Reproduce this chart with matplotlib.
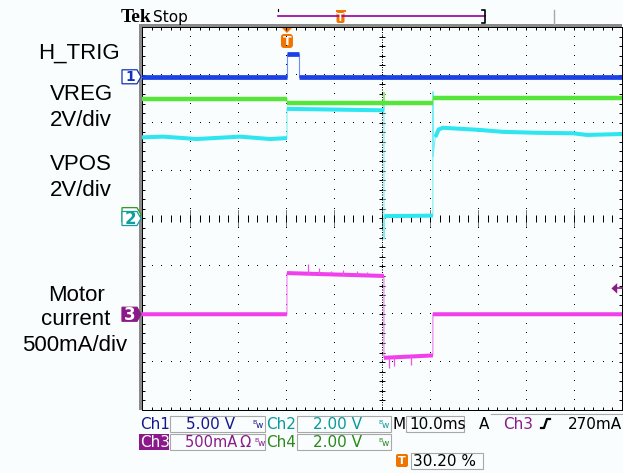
import numpy as np
import matplotlib.pyplot as plt
from matplotlib.patches import Polygon, Rectangle, FancyBboxPatch
from matplotlib.ticker import MultipleLocator

# scope settings
ms_per_div = 10.0
trig_pct = 30.20
ch1_v_per_div = 5.0
ch2_v_per_div = 2.0
ch3_ma_per_div = 500.0
ch4_v_per_div = 2.0
ch1_pos = 2.96
ch2_pos = 0.0
ch3_pos = -2.0
ch4_pos = 0.08
trig_level_ma = 270

# Ch1: H_TRIG (V)
htrig_t = [-30.2, 0.0, 0.0, 2.5, 2.5, 69.8]
htrig_v = [0.0, 0.0, 2.4, 2.4, 0.0, 0.0]

# Ch4: VREG (V)
vreg_t = [-30.2, 0.0, 0.0, 20.2, 20.2, 20.3, 30.4, 30.4, 69.8]
vreg_v = [4.85, 4.85, 4.66, 4.66, 5.12, 4.66, 4.66, 4.87, 4.87]

# Ch2: VPOS (V)
vpos_t = [-30.2, -25.8, -18.8, -9.8, -3.5, 0.0, 0.0, 20.2, 20.2, 20.2, 20.3,
          30.4, 30.4, 30.45, 30.9, 31.6, 32.5, 40.2, 45.0, 52.1, 59.6, 62.5, 69.8]
vpos_v = [3.39, 3.42, 3.32, 3.42, 3.32, 3.36, 4.58, 4.52, 5.10, -0.86, 0.10,
          0.12, 5.30, 2.60, 3.40, 3.72, 3.79, 3.70, 3.62, 3.58, 3.56, 3.49, 3.53]

# Ch3: motor current (mA)
motor_t = [-30.2, 0.0, 0.0, 20.2, 20.2, 30.4, 30.4, 69.8]
motor_ma = [0, 0, 430, 400, -455, -430, 0, 0]
motor_spike_t = [4.4, 6.7, 9.1, 11.7, 14.5, 16.6, 21.2, 22.2, 25.9]
motor_spike_ma = [530, 485, 455, 460, 450, 445, -560, -545, -527]

# graticule in pixels
X0, X1, Y0, Y1 = 142, 622, 27, 410
W, H = 623, 473
trig_div = trig_pct / 10.0


def px(xd):
    return X0 + xd * (X1 - X0) / 10.0


def py(yd):
    return (Y0 + Y1) / 2.0 - yd * (Y1 - Y0) / 8.0


fig = plt.figure(figsize=(W / 100, H / 100), dpi=100)
fig.patch.set_facecolor('#f9fdfd')

ov = fig.add_axes([0, 0, 1, 1])
ov.set_xlim(0, W)
ov.set_ylim(H, 0)
ov.axis('off')

ax = fig.add_axes([X0 / W, (H - Y1) / H, (X1 - X0) / W, (Y1 - Y0) / H])
ax.set_zorder(2)
ax.patch.set_alpha(0)
ax.set_xlim(0, 10)
ax.set_ylim(-4, 4)
for a in (ax.xaxis, ax.yaxis):
    a.set_major_locator(MultipleLocator(1))
    a.set_minor_locator(MultipleLocator(0.2))
ax.tick_params(which='both', direction='in', length=2.2, width=0.7,
               top=True, right=True, labelbottom=False, labelleft=False)
for s in ax.spines.values():
    s.set_linestyle((0, (1, 1)))
    s.set_linewidth(0.72)

# graticule dots
fine_y = np.arange(-4, 4.001, 0.2)
fine_x = np.arange(0, 10.001, 0.2)
for gx in range(1, 10):
    ax.plot(np.full_like(fine_y, gx), fine_y, ',', color='black')
for gy in range(-3, 4):
    ax.plot(fine_x, np.full_like(fine_x, gy), ',', color='black')

# centre cross with fine ticks
ax.axvline(5, color='black', lw=0.72, ls=(0, (1, 1.5)))
ax.hlines(fine_y, 5 - 0.06, 5 + 0.06, color='black', lw=0.72)
ax.vlines(fine_x, -0.07, 0.07, color='black', lw=0.72)
for gx in range(1, 10):
    ax.plot([gx, gx], [-0.17, 0.17], color='black', lw=0.72, ls=(0, (1, 1)))


def draw_trace(t, v, per_div, pos, color, edge, lw):
    x = np.asarray(t, float) / ms_per_div + trig_div
    y = np.asarray(v, float) / per_div + pos
    ax.plot(x, y, color=edge, lw=0.8, zorder=3)
    xs, ys = [x[0]], [y[0]]
    for i in range(1, len(x)):
        if abs(y[i] - y[i - 1]) > 6 * abs(x[i] - x[i - 1]):
            xs.append(np.nan)
            ys.append(np.nan)
        xs.append(x[i])
        ys.append(y[i])
    ax.plot(xs, ys, color=color, lw=lw, solid_capstyle='butt', zorder=3)


draw_trace(vpos_t, vpos_v, ch2_v_per_div, ch2_pos, '#2ee6f0', '#7aeef6', 2.9)
draw_trace(vreg_t, vreg_v, ch4_v_per_div, ch4_pos, '#56e63a', '#8cf070', 3.2)
draw_trace(motor_t, motor_ma, ch3_ma_per_div, ch3_pos, '#f040ee', '#f47af2', 2.9)
base = np.interp(motor_spike_t, motor_t, motor_ma)
ax.vlines(np.asarray(motor_spike_t) / ms_per_div + trig_div,
          base / ch3_ma_per_div + ch3_pos,
          np.asarray(motor_spike_ma) / ch3_ma_per_div + ch3_pos,
          color='#f050ee', lw=0.9, zorder=3)
draw_trace(htrig_t, htrig_v, ch1_v_per_div, ch1_pos, '#1a40e6', '#6a8cff', 3.4)

# trigger level arrow on the right edge
tl = trig_level_ma / ch3_ma_per_div + ch3_pos
ax.add_patch(Polygon([[9.78, tl], [9.9, tl + 0.11], [9.9, tl - 0.11]],
                     closed=True, fc='#8a1a8a', ec='none', clip_on=False, zorder=4))
ax.plot([9.9, 10.0], [tl, tl], color='#8a1a8a', lw=1.2, clip_on=False, zorder=4)

# frame bars
gray = '#8a8a8a'
ov.add_patch(Rectangle((139, 24), X1 - 139, 3, fc=gray, ec='none'))
ov.add_patch(Rectangle((139, 24), 3, Y1 - 24, fc=gray, ec='none'))

# header
ov.text(121, 22, 'Tek', fontfamily='Liberation Serif', fontweight='bold',
        fontsize=14, va='baseline')
ov.text(153, 22, 'Stop', fontfamily='DejaVu Sans', fontsize=11, va='baseline')
rec_l, rec_r = 278, 485
ov.plot([rec_l, rec_r], [16, 16], color='#990099', lw=1.2)
ov.plot([rec_r - 3, rec_r, rec_r, rec_r - 3], [10, 10, 23, 23], color='black', lw=1.2)
ov.plot([rec_l, rec_l], [9.5, 11.5], color='black', lw=0.8)
ov.plot([554, 554], [10, 24], color='#a8a8a8', lw=1)
orange = '#f07400'
rx = rec_l + (rec_r - rec_l) * trig_pct / 100
ov.add_patch(Rectangle((rx - 5, 10), 10, 2, fc=orange, ec='none'))
ov.add_patch(FancyBboxPatch((rx - 4, 12), 8, 11, boxstyle='round,pad=0,rounding_size=2',
                            fc=orange, ec='none'))
ov.text(rx, 18, 'T', color='white', fontsize=7, fontweight='bold',
        ha='center', va='center')

# trigger position marker
tx = px(trig_div)
ov.add_patch(Polygon([[tx - 6, 27], [tx + 6, 27], [tx, 33]], closed=True,
                     fc=orange, ec='none', zorder=5))
ov.add_patch(FancyBboxPatch((tx - 6, 34), 12, 14, boxstyle='round,pad=0,rounding_size=3',
                            fc=orange, ec='none', zorder=5))
ov.text(tx, 41.5, 'T', color='white', fontsize=9, fontweight='bold',
        ha='center', va='center', zorder=6)


def ch_marker(pos, num, fc, ec, tc, fs):
    yc = py(pos)
    pts = [[122, yc - 7], [137, yc - 7], [141, yc], [137, yc + 7], [122, yc + 7]]
    ov.add_patch(Polygon(pts, closed=True, fc=fc, ec=ec, lw=0.9, zorder=5))
    if num:
        ov.text(130, yc + 0.5, num, color=tc, fontsize=fs, fontweight='bold',
                ha='center', va='center', zorder=6)


ch_marker(ch1_pos, '1', 'white', '#1030c0', '#1030c0', 10)
ch_marker(ch4_pos, '', 'white', '#2a9a1a', '#2a9a1a', 10)
ch_marker(ch2_pos, '2', 'white', '#10a0a0', '#10a0a0', 12)
ch_marker(ch3_pos, '3', '#8a1a8a', '#8a1a8a', 'white', 12)

# channel labels
lab = dict(fontfamily='Liberation Sans', fontsize=16, ha='center', va='baseline')
ov.text(79, 59, 'H_TRIG', **lab)
ov.text(81, 100, 'VREG', **lab)
ov.text(81, 126, '2V/div', **lab)
ov.text(81, 170, 'VPOS', **lab)
ov.text(81, 196, '2V/div', **lab)
ov.text(77, 301, 'Motor', **lab)
ov.text(76, 325, 'current', **lab)
ov.text(75, 351, '500mA/div', **lab)

# status readout
navy, teal, purple, green = '#16168c', '#0a9a9a', '#8a1a8a', '#2a8a1a'
st = dict(fontfamily='DejaVu Sans', fontsize=11, va='baseline')
box_ec = '#a8a8a8'
for (bx, by, bw, bh) in [(170, 416, 95, 16), (297, 416, 94, 16), (406, 416, 58, 16),
                         (170, 434, 95, 16), (297, 434, 94, 16), (411, 453, 72, 16)]:
    ov.add_patch(Rectangle((bx, by), bw, bh, fc='none', ec=box_ec, lw=0.8))
ov.plot([491, 622], [414, 414], color=box_ec, lw=0.8)


def bw_mark(x, y, color):
    ov.text(x, y, r'$^{\mathrm{B}}\!\mathrm{w}$', color=color, fontsize=6.5,
            va='baseline')


r1, r2, r3 = 429, 447, 466
ov.text(140, r1, 'Ch1', color=navy, **st)
ov.text(235, r1, '5.00 V', color=navy, ha='right', **st)
bw_mark(252, r1, navy)
ov.text(266, r1, 'Ch2', color=teal, **st)
ov.text(362, r1, '2.00 V', color=teal, ha='right', **st)
bw_mark(378, r1, teal)
ov.text(393, r1, 'M', color='black', **st)
ov.text(409, r1, '10.0ms', color='black', **st)
ov.text(479, r1, 'A', color='black', **st)
ov.text(503, r1, 'Ch3', color=purple, **st)
ov.plot([541, 544, 547, 550], [r1 - 1, r1 - 1, r1 - 10, r1 - 10], color='black', lw=1.6)
ov.text(622, r1, '270mA', color='black', ha='right', **st)

ov.add_patch(Rectangle((139, 434), 30, 16, fc=purple, ec='none'))
ov.text(140, r2, 'Ch3', color='white', **st)
ov.text(185, r2, '500mA\u2009\u03a9', color=purple, fontfamily='DejaVu Sans',
        fontsize=10.5, va='baseline')
bw_mark(254, r2, purple)
ov.text(266, r2, 'Ch4', color=green, **st)
ov.text(362, r2, '2.00 V', color=green, ha='right', **st)
bw_mark(378, r2, green)

ov.add_patch(FancyBboxPatch((396, 454), 12, 13, boxstyle='round,pad=0,rounding_size=2',
                            fc=orange, ec='none'))
ov.text(402, 460.5, 'T', color='white', fontsize=8, fontweight='bold',
        ha='center', va='center')
ov.text(413, r3, '30.20 %', color='black', **st)

fig.savefig('out.png', dpi=100, facecolor=fig.get_facecolor())
